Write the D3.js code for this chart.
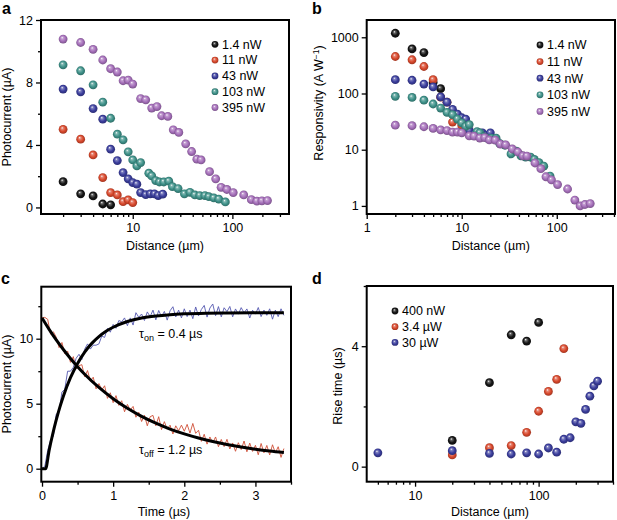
<!DOCTYPE html>
<html><head><meta charset="utf-8">
<script src="https://cdn.jsdelivr.net/npm/d3@7"></script>
<style>
body{margin:0;background:#fff}
text{font-family:"Liberation Sans",Arial,Helvetica,sans-serif}
</style>
</head><body>
<svg id="chart" width="617" height="520"></svg>
<script>
// ---------------- DATA ----------------
// Panel a / b : distances (µm) per power
const distBlack  = [2,3,4,5,6];
const distRed    = [2,3,4,5,6,7,8,9,10];
const distBlue   = [2,3,4,5,6,7,8,9,10,11,12,13.5,15,16.5,18,20];
const distTeal   = [2,3,4,5,6,7,8,9,10,11,12,14.5,15.5,17,18.5,20.5,23,25,28.5,33,37.5,42,47,53,58,65,73,85];
const distPurple = [2,3,4,5,6,7,8,9,10,12,13.5,15.5,17.5,19.5,22.5,25.5,29,34,39,44,48.5,59,68,77,88,102,130,155,176,198,225];
// Panel a : photocurrent (µA)
const pcBlack  = [1.65,0.87,0.74,0.22,0.17];
const pcRed    = [5.0,4.37,3.36,1.91,0.95,0.8,0.37,0.48,0.31];
const pcBlue   = [7.58,7.4,6.33,5.65,3.73,3.0,2.23,1.83,1.59,1.49,0.95,0.82,0.87,0.87,0.76,0.85];
const pcTeal   = [9.13,8.75,7.85,6.74,5.71,4.69,4.33,3.56,3.04,2.66,2.87,2.19,2.02,1.72,1.63,1.63,1.68,1.33,1.21,0.87,0.97,0.8,0.76,0.76,0.69,0.61,0.53,0.35];
const pcPurple = [10.78,10.56,10.12,9.44,8.88,8.67,8.11,8.15,7.9,6.97,6.89,6.36,6.46,5.87,5.83,4.97,4.8,4.07,3.58,3.09,3.04,2.29,1.83,1.29,1.15,0.95,0.8,0.5,0.4,0.42,0.44];
// Panel b : responsivity (A/W)
const rBlack  = [1180,622,535,157,122];
const rRed    = [455,398,302,176,86,70,31,40,27];
const rBlue   = [176,172,147,131,87,70,52,43,37,35,22,19,20,20,18,20];
const rTeal   = [89,85,76,65,55,46,42,35,30,26,28,21,20,17,16,16,16,13,12,8.4,9.4,7.8,7.4,7.4,6.7,5.9,5.1,3.4];
const rPurple = [27.3,26.7,25.6,23.9,22.5,21.9,20.5,20.6,20,17.6,17.4,16.1,16.4,14.9,14.8,12.6,12.2,10.3,9.1,7.8,7.7,5.8,4.6,3.3,2.9,2.4,2.0,1.27,1.0,1.06,1.1];
const powerLabels = ["1.4 nW","11 nW","43 nW","103 nW","395 nW"];
const powerColors = ["#141414","#d8482c","#3a3d9c","#3e9189","#a56fba"];

// Panel c : time traces (sampled every 0.04 µs from t = 0)
const traceStep = 0.04;
const traceOn = [0,0.2,1.4,2.2,2.5,4.2,4.4,5.9,6.1,7.5,7.5,7.8,8.5,8.8,8.4,9.2,9.6,9.2,9.5,9.5,9.6,10.2,10.1,10.8,10.5,11.1,10.8,11.4,11.3,11.6,11.0,11.6,11.05,12.0,11.65,11.9,11.4,12.06,11.7,12.2,11.45,12.17,11.7,12.1,11.43,12.15,12.46,11.67,12.2,11.6,12.3,11.7,12.2,11.54,12.44,11.75,12.25,12.56,11.66,12.36,12.67,11.77,12.47,11.68,12.38,12.08,12.48,11.68,12.29,11.89,12.39,11.99,12.29,11.59,12.19,11.89,12.4,11.7,12.2,11.8,12.3,11.5,12.2,11.7,12.3,11.8];
const traceOff = [11.6,11.64,11.49,10.35,10.53,10.11,9.31,9.71,8.83,9.05,8.18,8.62,7.67,7.93,8.0,7.07,7.55,6.74,7.04,6.14,6.55,6.06,6.38,5.41,5.84,5.08,5.62,4.87,5.23,4.38,4.95,4.51,4.79,3.96,4.34,3.63,4.11,3.30,4.0,4.1,3.3,4.0,3.01,3.62,3.04,3.35,2.67,3.3,2.92,3.35,2.88,3.41,2.74,3.48,2.72,2.96,2.1,2.65,1.89,2.44,1.99,2.44,1.69,2.25,1.7,2.26,1.52,1.98,1.34,2.0,1.47,2.13,1.3,1.97,1.33,1.8,1.07,1.94,1.22,1.79,1.06,1.84,1.22,1.69,0.87,1.55];
const fitOnT  = [0,0.05,0.1,0.15,0.2,0.25,0.3,0.4,0.5,0.6,0.7,0.8,0.9,1.0,1.2,1.4,1.6,1.8,2.0,2.3,2.6,3.0,3.4];
const fitOnV  = [0,0,1.41,2.65,3.75,4.72,5.58,7.0,8.1,8.97,9.64,10.16,10.57,10.88,11.32,11.59,11.75,11.85,11.91,11.96,11.98,11.99,12.0];
const fitOffT = [0,0.1,0.2,0.3,0.4,0.5,0.6,0.8,1.0,1.2,1.4,1.6,1.8,2.0,2.2,2.4,2.6,2.8,3.0,3.2,3.4];
const fitOffV = [11.6,10.72,9.91,9.17,8.48,7.85,7.27,6.25,5.38,4.65,4.03,3.5,3.05,2.68,2.36,2.09,1.86,1.67,1.5,1.36,1.25];

// Panel d : rise time (µs) vs distance (µm)
const dDistBlack = [20,40,60,80,100];
const dRiseBlack = [0.87,2.79,4.38,4.17,4.79];
const dDistRed   = [20,40,60,80,100,120,140,160];
const dRiseRed   = [0.39,0.63,0.70,1.14,1.84,2.5,2.9,3.92];
const dDistBlue  = [5,20,40,60,80,100,120,140,160,180,200,220,240,260,280,300];
const dRiseBlue  = [0.46,0.53,0.44,0.42,0.46,0.42,0.62,0.48,0.91,0.96,1.49,1.44,1.9,2.34,2.68,2.84];
const dLabels = ["400 nW","3.4 \u00b5W","30 \u00b5W"];
const dColors = ["#141414","#d8482c","#3a3d9c"];

// Tick values
const aYTicks = [0,4,8,12], aYMinor = [2,6,10];
const bYTicks = [1,10,100,1000];
const cXTicks = [0,1,2,3], cXMinor = [0.5,1.5,2.5,3.5];
const cYTicks = [0,5,10], cYMinor = [2.5,7.5,12.5];
const dYTicks = [0,4], dYMinor = [2,6];

// ---------------- DRAW ----------------
const svg = d3.select("#chart");
const defs = svg.append("defs");
const FONT = '"Liberation Sans",Arial,Helvetica,sans-serif';

function gradId(color){ return "g" + color.replace("#",""); }
function makeGrad(color){
  const c = d3.color(color);
  const g = defs.append("radialGradient").attr("id", gradId(color))
    .attr("cx","50%").attr("cy","50%").attr("r","55%").attr("fx","38%").attr("fy","32%");
  g.append("stop").attr("offset","0%").attr("stop-color","#ffffff");
  g.append("stop").attr("offset","22%").attr("stop-color", d3.interpolateRgb(color,"#ffffff")(0.35));
  g.append("stop").attr("offset","60%").attr("stop-color", color);
  g.append("stop").attr("offset","100%").attr("stop-color", c.darker(1.0).formatHex());
}
[...new Set(powerColors.concat(dColors))].forEach(makeGrad);

function frame(x0,y0,x1,y1){
  svg.append("rect").attr("x",x0).attr("y",y0).attr("width",x1-x0).attr("height",y1-y0)
    .attr("fill","none").attr("stroke","#000").attr("stroke-width",2);
}
function styleAxis(g){
  g.select(".domain").remove();
  g.attr("font-family",FONT).attr("font-size",12.5);
  g.selectAll("line").attr("stroke","#000").attr("stroke-width",1.3);
  g.selectAll("text").attr("fill","#000");
}
function xAxis(scale, y, major, minor, fmt){
  svg.append("g").attr("transform",`translate(0,${y})`)
    .call(d3.axisBottom(scale).tickValues(minor).tickSize(3).tickFormat("")).call(styleAxis);
  svg.append("g").attr("transform",`translate(0,${y})`)
    .call(d3.axisBottom(scale).tickValues(major).tickSize(5).tickPadding(4).tickFormat(fmt)).call(styleAxis);
}
function yAxis(scale, x, major, minor, fmt){
  if (minor.length) svg.append("g").attr("transform",`translate(${x},0)`)
    .call(d3.axisLeft(scale).tickValues(minor).tickSize(3).tickFormat("")).call(styleAxis);
  svg.append("g").attr("transform",`translate(${x},0)`)
    .call(d3.axisLeft(scale).tickValues(major).tickSize(5).tickPadding(3).tickFormat(fmt)).call(styleAxis);
}
function logMinor(scale, majors){
  return scale.ticks().filter(v => !majors.some(m => Math.abs(m - v) < 1e-9));
}
function spheres(xs, ys, color, sx, sy, r){
  svg.append("g").selectAll("circle").data(xs.map((x,i)=>[x,ys[i]])).join("circle")
    .attr("cx",d=>sx(d[0])).attr("cy",d=>sy(d[1])).attr("r",r)
    .attr("fill",`url(#${gradId(color)})`);
}
function legend(x, y0, dy, labels, colors){
  labels.forEach((l,i)=>{
    svg.append("circle").attr("cx",x).attr("cy",y0+i*dy).attr("r",3.4)
      .attr("fill",`url(#${gradId(colors[i])})`);
    svg.append("text").attr("x",x+7).attr("y",y0+i*dy+4.3).attr("font-size",12.5).text(l);
  });
}
function panelLabel(t,x,y){
  svg.append("text").attr("x",x).attr("y",y).attr("font-size",16).attr("font-weight","bold").text(t);
}
function yTitle(t, x, y){
  return svg.append("text").attr("transform",`translate(${x},${y}) rotate(-90)`)
    .attr("text-anchor","middle").attr("font-size",12.5).text(t);
}
function xTitle(t, x, y){
  svg.append("text").attr("x",x).attr("y",y).attr("text-anchor","middle").attr("font-size",12.5).text(t);
}
function tauLabel(x, y, sub, rest){
  const t = svg.append("text").attr("x",x).attr("y",y).attr("font-size",12.5);
  t.append("tspan").text("\u03c4");
  t.append("tspan").attr("dy",3).attr("font-size",9).text(sub);
  t.append("tspan").attr("dy",-3).text(rest);
}
const fmtInt = d3.format("d");

// ----- Panel a -----
{
  const x0=41,y0=20,x1=289,y1=214;
  const sx = d3.scaleLog().domain([1.2,370]).range([x0,x1]);
  const sy = d3.scaleLinear().domain([-0.42,12]).range([y1,y0]);
  frame(x0,y0,x1,y1);
  xAxis(sx, y1, [10,100], logMinor(sx,[10,100]), fmtInt);
  yAxis(sy, x0, aYTicks, aYMinor, fmtInt);
  const xs=[distBlack,distRed,distBlue,distTeal,distPurple], ys=[pcBlack,pcRed,pcBlue,pcTeal,pcPurple];
  xs.forEach((x,i)=>spheres(x, ys[i], powerColors[i], sx, sy, 4.4));
  legend(215, 44.3, 15.8, powerLabels, powerColors);
  panelLabel("a",2,13.5);
  yTitle("Photocurrent (\u00b5A)", 11, 117);
  xTitle("Distance (\u00b5m)", 165, 250);
}
// ----- Panel b -----
{
  const x0=366.7,y0=20,x1=615,y1=214;
  const sx = d3.scaleLog().domain([1,410]).range([x0,x1]);
  const sy = d3.scaleLog().domain([0.718,2030]).range([y1,y0]);
  frame(x0,y0,x1,y1);
  xAxis(sx, y1, [1,10,100], logMinor(sx,[1,10,100]), fmtInt);
  yAxis(sy, x0, bYTicks, [], fmtInt);
  const xs=[distBlack,distRed,distBlue,distTeal,distPurple], ys=[rBlack,rRed,rBlue,rTeal,rPurple];
  xs.forEach((x,i)=>spheres(x, ys[i], powerColors[i], sx, sy, 4.4));
  legend(540, 45, 16.6, powerLabels, powerColors);
  panelLabel("b",312,13.5);
  const t = yTitle("", 323, 103);
  t.append("tspan").text("Responsivity (A W");
  t.append("tspan").attr("dy",-4).attr("font-size",8.5).text("\u22121");
  t.append("tspan").attr("dy",4).text(")");
  xTitle("Distance (\u00b5m)", 490.8, 250);
}
// ----- Panel c -----
{
  const x0=41.3,y0=286.7,x1=291,y1=481.7;
  const sx = d3.scaleLinear().domain([-0.01,3.5]).range([x0,x1]);
  const sy = d3.scaleLinear().domain([-1,14]).range([y1,y0]);
  frame(x0,y0,x1,y1);
  xAxis(sx, y1, cXTicks, cXMinor, fmtInt);
  yAxis(sy, x0, cYTicks, cYMinor, fmtInt);
  const tr = d3.line().x((d,i)=>sx(i*traceStep)).y(d=>sy(d));
  svg.append("path").attr("d",tr(traceOn)).attr("fill","none").attr("stroke","#5558b0").attr("stroke-width",0.9);
  svg.append("path").attr("d",tr(traceOff)).attr("fill","none").attr("stroke","#cf5038").attr("stroke-width",0.9);
  const fl = d3.line().x(d=>sx(d[0])).y(d=>sy(d[1])).curve(d3.curveMonotoneX);
  svg.append("path").attr("d",fl(fitOnT.map((t,i)=>[t,fitOnV[i]]))).attr("fill","none").attr("stroke","#000").attr("stroke-width",3);
  svg.append("path").attr("d",fl(fitOffT.map((t,i)=>[t,fitOffV[i]]))).attr("fill","none").attr("stroke","#000").attr("stroke-width",3);
  tauLabel(139, 338, "on", " = 0.4 \u00b5s");
  tauLabel(139, 454, "off", " = 1.2 \u00b5s");
  panelLabel("c",1,283.5);
  yTitle("Photocurrent (\u00b5A)", 11, 384);
  xTitle("Time (\u00b5s)", 164, 516);
}
// ----- Panel d -----
{
  const x0=366.7,y0=286,x1=613,y1=481.7;
  const sx = d3.scaleLog().domain([4.06,400]).range([x0,x1]);
  const sy = d3.scaleLinear().domain([-0.5,6]).range([y1,y0]);
  frame(x0,y0,x1,y1);
  xAxis(sx, y1, [10,100], logMinor(sx,[10,100]), fmtInt);
  yAxis(sy, x0, dYTicks, dYMinor, fmtInt);
  spheres(dDistBlack, dRiseBlack, dColors[0], sx, sy, 4.4);
  spheres(dDistRed, dRiseRed, dColors[1], sx, sy, 4.4);
  spheres(dDistBlue, dRiseBlue, dColors[2], sx, sy, 4.4);
  legend(395, 311, 15.7, dLabels, dColors);
  panelLabel("d",312,283.5);
  yTitle("Rise time (\u00b5s)", 342, 386);
  xTitle("Distance (\u00b5m)", 490, 516);
}
</script>
</body></html>
